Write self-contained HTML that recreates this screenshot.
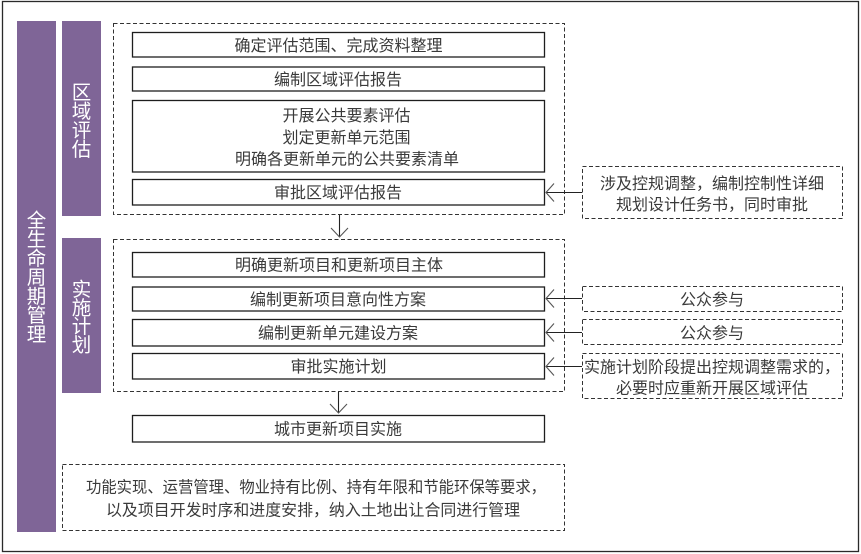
<!DOCTYPE html>
<html>
<head>
<meta charset="utf-8">
<style>
  html,body{margin:0;padding:0;background:#fff;}
  svg{display:block;}
  text{font-family:"Liberation Sans","Noto Sans CJK SC","WenQuanYi Zen Hei",sans-serif;}
  .t{font-size:16px;fill:#3a3a3a;}
  .w{font-size:19.5px;fill:#ffffff;}
</style>
</head>
<body>
<svg width="861" height="554" viewBox="0 0 861 554" xmlns="http://www.w3.org/2000/svg">
  <rect x="0" y="0" width="861" height="554" fill="#fff"/>
  <!-- outer border -->
  <rect x="2.5" y="1.5" width="856" height="550" fill="none" stroke="#2a2a2a" stroke-width="1.3"/>

  <!-- purple bars -->
  <rect x="17" y="21" width="39" height="511" fill="#7f6597"/>
  <rect x="62" y="21" width="39" height="195" fill="#7f6597"/>
  <rect x="62" y="238" width="39" height="155" fill="#7f6597"/>

  <!-- vertical labels -->
  <g class="w" text-anchor="middle">
    <text class="w" x="36.5" y="226.9">全</text>
    <text class="w" x="36.5" y="245.9">生</text>
    <text class="w" x="36.5" y="264.9">命</text>
    <text class="w" x="36.5" y="283.9">周</text>
    <text class="w" x="36.5" y="302.9">期</text>
    <text class="w" x="36.5" y="321.9">管</text>
    <text class="w" x="36.5" y="340.9">理</text>

    <text class="w" x="81.5" y="98.9">区</text>
    <text class="w" x="81.5" y="117.9">域</text>
    <text class="w" x="81.5" y="136.9">评</text>
    <text class="w" x="81.5" y="155.9">估</text>

    <text class="w" x="81.5" y="295.9">实</text>
    <text class="w" x="81.5" y="314.4">施</text>
    <text class="w" x="81.5" y="332.9">计</text>
    <text class="w" x="81.5" y="351.4">划</text>
  </g>

  <!-- dashed group boxes -->
  <g fill="none" stroke="#333" stroke-width="1" stroke-dasharray="4,2.5">
    <rect x="113.5" y="23.5" width="451" height="191"/>
    <rect x="113.5" y="239.5" width="451" height="152"/>
    <rect x="62.5" y="464.5" width="502" height="66"/>
    <rect x="582.5" y="166.5" width="260" height="52"/>
    <rect x="582.5" y="286.5" width="260" height="25"/>
    <rect x="582.5" y="319.5" width="260" height="25"/>
    <rect x="582.5" y="353.5" width="260" height="45"/>
  </g>

  <!-- solid boxes -->
  <g fill="#fff" stroke="#1e1e1e" stroke-width="1.3">
    <rect x="132.5" y="32.5" width="412" height="24.5"/>
    <rect x="132.5" y="67" width="412" height="24"/>
    <rect x="132.5" y="100.5" width="412" height="71.5"/>
    <rect x="132.5" y="179.5" width="412" height="25.5"/>

    <rect x="132.5" y="252.5" width="412" height="24.5"/>
    <rect x="132.5" y="287" width="412" height="24"/>
    <rect x="132.5" y="319.5" width="412" height="26.5"/>
    <rect x="132.5" y="353.5" width="412" height="25.5"/>

    <rect x="132.5" y="415.5" width="412" height="26.5"/>
  </g>

  <!-- connectors -->
  <g fill="none" stroke="#222" stroke-width="1.1">
    <line x1="339.5" y1="215" x2="339.5" y2="237"/>
    <line x1="338.5" y1="392" x2="338.5" y2="413"/>
    <line x1="582" y1="192.5" x2="546" y2="192.5"/>
    <line x1="582" y1="298.5" x2="546" y2="298.5"/>
    <line x1="582" y1="332.5" x2="546" y2="332.5"/>
    <line x1="582" y1="366.5" x2="546" y2="366.5"/>
  </g>
  <g fill="none" stroke="#555" stroke-width="1.1">
    <polyline points="331,228 339.5,237 348,228"/>
    <polyline points="330,404 338.5,413 347,404"/>
    <polyline points="554,183.5 546,192.5 554,201.5"/>
    <polyline points="554,289.5 546,298.5 554,307.5"/>
    <polyline points="554,323.5 546,332.5 554,341.5"/>
    <polyline points="554,357.5 546,366.5 554,375.5"/>
  </g>

  <!-- box texts -->
  <g text-anchor="middle">
    <text class="t" x="338.5" y="51">确定评估范围、完成资料整理</text>
    <text class="t" x="338" y="85">编制区域评估报告</text>
    <text class="t" x="346.5" y="121">开展公共要素评估</text>
    <text class="t" x="346.5" y="143">划定更新单元范围</text>
    <text class="t" x="347" y="164.5">明确各更新单元的公共要素清单</text>
    <text class="t" x="338" y="198">审批区域评估报告</text>

    <text class="t" x="339" y="270.5">明确更新项目和更新项目主体</text>
    <text class="t" x="338" y="305">编制更新项目意向性方案</text>
    <text class="t" x="338" y="338.5">编制更新单元建设方案</text>
    <text class="t" x="338.5" y="372">审批实施计划</text>

    <text class="t" x="338" y="434.5">城市更新项目实施</text>

    <text class="t" x="712" y="189">涉及控规调整，编制控制性详细</text>
    <text class="t" x="712" y="210">规划设计任务书，同时审批</text>
    <text class="t" x="712" y="305">公众参与</text>
    <text class="t" x="712" y="338.5">公众参与</text>
    <text class="t" x="712" y="372.5">实施计划阶段提出控规调整需求的，</text>
    <text class="t" x="712" y="393.5">必要时应重新开展区域评估</text>
  </g>

  <text class="t" x="86" y="492.5" textLength="460" lengthAdjust="spacingAndGlyphs">功能实现、运营管理、物业持有比例、持有年限和节能环保等要求，</text>
  <text class="t" x="106" y="515.5" textLength="414" lengthAdjust="spacingAndGlyphs">以及项目开发时序和进度安排，纳入土地出让合同进行管理</text>
</svg>
</body>
</html>
